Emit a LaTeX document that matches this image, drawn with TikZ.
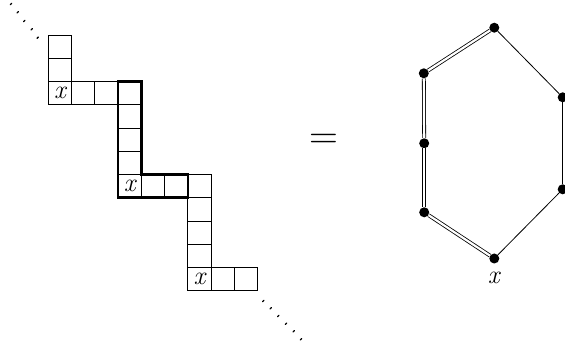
\documentclass[tikz,border=0pt]{standalone}
\usepackage{fontspec}
\newfontfamily\lmfont{Latin Modern Roman}
\begin{document}
\begin{tikzpicture}[x=1pt,y=-1pt]
\tikzset{
  cellline/.style={draw, line width=0.8pt},
  boldline/.style={draw, line width=2.6pt, line join=miter},
  lab/.style={inner sep=0pt, font=\lmfont\fontsize{26}{26}\selectfont\itshape},
  vert/.style={circle, fill=black, inner sep=0pt, minimum size=10pt},
  dbl/.style={draw, line width=0.8pt, double, double distance=2.2pt},
  sgl/.style={draw, line width=0.8pt},
  dotmark/.style={draw, line width=1.3pt, line cap=round}
}
\useasboundingbox (0,0) rectangle (565,347);
% staircase grid
\begin{scope}[shift={(48.3,35)}, x=23.25pt, y=-23.25pt]
  \foreach \i/\j in {0/0,0/1,0/2,1/2,2/2,3/2,3/3,3/4,3/5,3/6,4/6,5/6,6/6,6/7,6/8,6/9,6/10,7/10,8/10}
    \draw[cellline] (\i,\j) rectangle ++(1,1);
  \draw[boldline] (3,2) -- (4,2) -- (4,6) -- (6,6) -- (6,7) -- (3,7) -- cycle;
  \node[lab] (xa) at (0.5,2.5) {x};
  \node[lab] (xb) at (3.5,6.5) {x};
  \node[lab] (xc) at (6.5,10.5) {x};
\end{scope}
% dots
\foreach \p in {(11,4),(17.7,12.3),(24.3,21),(31.7,29.3),(37.7,37.7),
                (263.3,301),(270.7,308.3),(278.3,316),(286,323.7),(293.7,331.3),(301,339.3)}
  \draw[dotmark] \p ++(-0.7,0.7) -- ++(1.4,-1.4);
% equals sign
\node[inner sep=0pt, anchor=base, font=\lmfont\fontsize{40}{40}\selectfont] (eq) at (323.8,148.5) {=};
% hexagon
\node[vert] (t)  at (494.3,27.7) {};
\node[vert] (ul) at (423.8,73.3) {};
\node[vert] (lm) at (424.2,143.3) {};
\node[vert] (ll) at (424.2,212.3) {};
\node[vert] (b)  at (494.3,258.5) {};
\node[vert] (lr) at (562.7,189.3) {};
\node[vert] (ur) at (562.7,97.3) {};
\draw[dbl] (t) -- (ul);
\draw[dbl] (ul) -- (lm);
\draw[dbl] (lm) -- (ll);
\draw[dbl] (ll) -- (b);
\draw[sgl] (t) -- (ur);
\draw[sgl] (ur) -- (lr);
\draw[sgl] (lr) -- (b);
\node[lab] (xl) at (493.8,277.5) {x};
\end{tikzpicture}
\end{document}
